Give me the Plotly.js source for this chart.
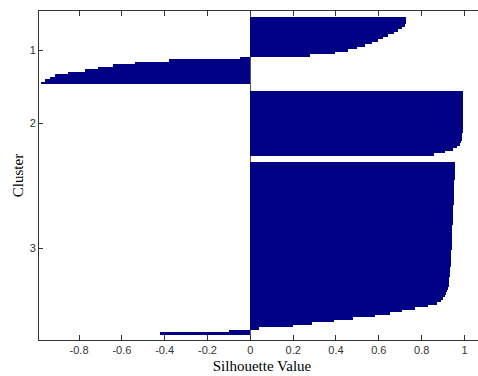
<!DOCTYPE html>
<html>
<head>
<meta charset="utf-8">
<script src="https://cdn.plot.ly/plotly-3.0.1.min.js"></script>
<style>
html,body{margin:0;padding:0;overflow:hidden;background:#fff;width:478px;height:376px;}
#chart{width:490px;height:376px;}
</style>
</head>
<body>
<div id="chart"></div>
<script>
// Cluster labels
const clusterLabels = ['1', '2', '3'];

// Silhouette values, sorted within each cluster
const cluster1 = [0.729, 0.728, 0.727, 0.724, 0.71, 0.69, 0.67, 0.645, 0.62, 0.595,
  0.57, 0.535, 0.50, 0.455, 0.395, 0.28, -0.05, -0.38, -0.54, -0.64,
  -0.71, -0.77, -0.85, -0.91, -0.935, -0.96, -0.978];

const cluster2 = [0.995, 0.995, 0.995, 0.994, 0.994, 0.994, 0.993, 0.993, 0.993, 0.993,
  0.992, 0.992, 0.992, 0.992, 0.991, 0.991, 0.991, 0.990, 0.990, 0.988,
  0.985, 0.978, 0.965, 0.945, 0.91, 0.86];

const cluster3 = [0.957, 0.956, 0.956, 0.955, 0.955, 0.954, 0.954, 0.953, 0.953, 0.952,
  0.952, 0.951, 0.951, 0.950, 0.950, 0.949, 0.949, 0.948, 0.948, 0.947,
  0.947, 0.946, 0.946, 0.945, 0.945, 0.944, 0.944, 0.943, 0.943, 0.942,
  0.942, 0.941, 0.941, 0.940, 0.940, 0.939, 0.938, 0.938, 0.937, 0.936,
  0.936, 0.935, 0.934, 0.933, 0.932, 0.931, 0.930, 0.929, 0.928, 0.927,
  0.922, 0.918, 0.913, 0.908, 0.90, 0.89, 0.87, 0.83, 0.77, 0.71,
  0.65, 0.58, 0.48, 0.39, 0.29, 0.20, 0.04, -0.10, -0.42];

// X tick values and labels
const xTickVals = [-0.8, -0.6, -0.4, -0.2, 0, 0.2, 0.4, 0.6, 0.8, 1];
const xTickText = ['-0.8', '-0.6', '-0.4', '-0.2', '0', '0.2', '0.4', '0.6', '0.8', '1'];

// layout of bar slots (in bar units)
const clusters = [cluster1, cluster2, cluster3];
const topPad = 2.2, gap = 2.6, bottomPad = 2.2;
const ys = [], xs = [], centers = [];
let pos = topPad;
clusters.forEach(c => {
  c.forEach((v, j) => { ys.push(pos + 0.5 + j); xs.push(v); });
  centers.push(pos + c.length / 2);
  pos += c.length + gap;
});
const yMax = pos - gap + bottomPad;

const trace = {
  type: 'bar',
  orientation: 'h',
  x: xs,
  y: ys,
  width: 1,
  marker: {color: '#000085', line: {width: 0}},
  hoverinfo: 'x'
};

const axisColor = '#333333';
const layout = {
  width: 490,
  height: 376,
  margin: {l: 39, r: 5, t: 11, b: 36},
  paper_bgcolor: '#fff',
  plot_bgcolor: '#fff',
  showlegend: false,
  bargap: 0,
  xaxis: {
    range: [-0.987, 1.096],
    tickvals: xTickVals,
    ticktext: xTickText,
    ticks: 'inside',
    ticklen: 5,
    tickcolor: axisColor,
    showline: true,
    linecolor: axisColor,
    linewidth: 1,
    mirror: 'ticks',
    showgrid: false,
    zeroline: true,
    zerolinecolor: '#555',
    zerolinewidth: 1,
    tickfont: {family: 'Liberation Sans, Arial, sans-serif', size: 11, color: '#333'},
    title: {text: 'Silhouette Value', font: {family: 'Liberation Serif, Times New Roman, serif', size: 15, color: '#000'}, standoff: 5}
  },
  yaxis: {
    range: [yMax, 0],
    tickvals: centers,
    ticktext: clusterLabels,
    ticks: 'inside',
    ticklen: 4,
    tickcolor: axisColor,
    showline: true,
    linecolor: axisColor,
    linewidth: 1,
    mirror: 'ticks',
    showgrid: false,
    zeroline: false,
    tickfont: {family: 'Liberation Sans, Arial, sans-serif', size: 11, color: '#333'},
    title: {text: 'Cluster', font: {family: 'Liberation Serif, Times New Roman, serif', size: 15, color: '#000'}, standoff: 2}
  }
};

Plotly.newPlot('chart', [trace], layout, {displayModeBar: false, staticPlot: true});
</script>
</body>
</html>
